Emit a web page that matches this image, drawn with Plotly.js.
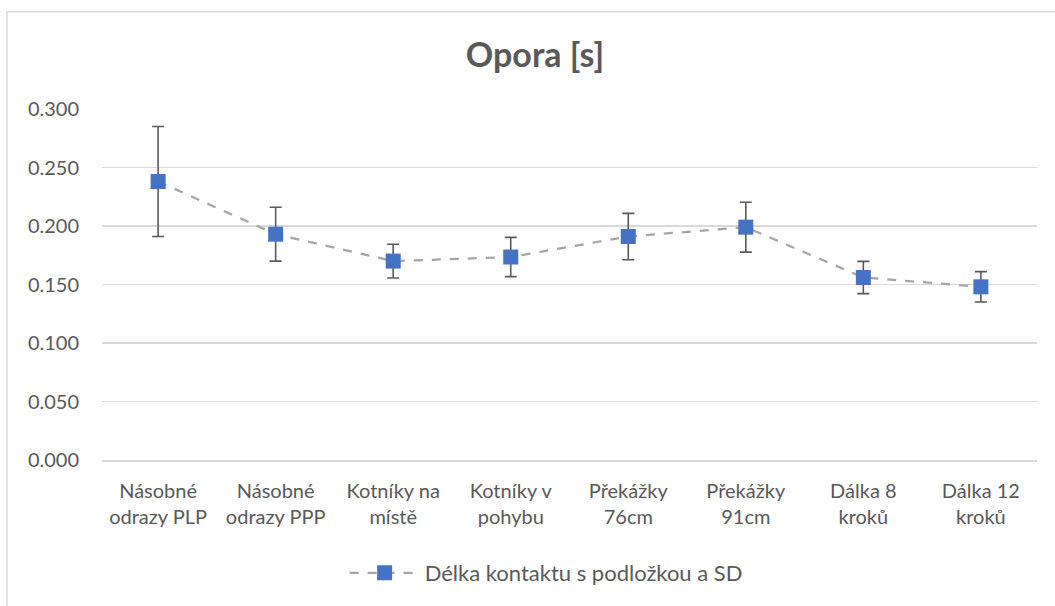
<!DOCTYPE html>
<html>
<head>
<meta charset="utf-8">
<script src="https://cdn.plot.ly/plotly-3.0.1.min.js"></script>
<style>html,body{margin:0;padding:0;background:#fff;}#chart{width:1055px;height:606px;}</style>
</head>
<body>
<div id="chart"></div>
<script>
const categories = [
  "Násobné<br>odrazy PLP",
  "Násobné<br>odrazy PPP",
  "Kotníky na<br>místě",
  "Kotníky v<br>pohybu",
  "Překážky<br>76cm",
  "Překážky<br>91cm",
  "Dálka 8<br>kroků",
  "Dálka 12<br>kroků"
];
const means = [0.238, 0.193, 0.170, 0.1735, 0.191, 0.199, 0.156, 0.148];
const sd = [0.047, 0.023, 0.0144, 0.0168, 0.0198, 0.0213, 0.0138, 0.013];
const seriesName = "Délka kontaktu s podložkou a SD";
const yTicks = [0, 0.05, 0.1, 0.15, 0.2, 0.25, 0.3];

const font = "Lato, 'Noto Sans', sans-serif";
const trace = {
  type: "scatter",
  mode: "lines+markers",
  x: categories,
  y: means,
  name: seriesName,
  line: {color: "#a5a5a5", width: 2.25, dash: "dash"},
  marker: {symbol: "square", size: 15, color: "#4472c4", line: {color: "#4472c4", width: 0}},
  error_y: {type: "data", array: sd, visible: true, color: "#595959", thickness: 1.6, width: 6}
};
const layout = {
  width: 1055, height: 606,
  margin: {l: 102, r: 18, t: 109, b: 143},
  paper_bgcolor: "#fff", plot_bgcolor: "#fff",
  font: {family: font, color: "#595959", size: 20},
  title: {text: "<b>Opora [s]</b>", font: {family: font, size: 34, color: "#595959"}, xref: "container", x: 535/1055, xanchor: "center", y: 1 - 55/606, yanchor: "middle"},
  showlegend: true,
  legend: {orientation: "h", x: 0.475, xanchor: "center", y: -0.322, yanchor: "middle", itemwidth: 70, font: {size: 22, color: "#595959"}},
  xaxis: {type: "category", showgrid: false, showline: true, linecolor: "#d9d9d9", linewidth: 1.5, ticks: "", ticklabelstandoff: 12, tickfont: {size: 20, color: "#595959"}, zeroline: false},
  yaxis: {range: [0, 0.3], tickvals: yTicks, tickformat: ".3f", showgrid: true, gridcolor: "#d9d9d9", gridwidth: 1.3, zeroline: false, showline: false, ticks: "", ticklabelstandoff: 22, tickfont: {size: 20, color: "#595959"}},
  shapes: [{type: "rect", xref: "paper", yref: "paper", x0: -0.1016, x1: 1.05, y0: -0.45, y1: 1.2768, line: {color: "#d9d9d9", width: 1.5}, fillcolor: "rgba(0,0,0,0)", layer: "below"}]
};
Plotly.newPlot("chart", [trace], layout, {displayModeBar: false, staticPlot: true});
</script>
</body>
</html>
